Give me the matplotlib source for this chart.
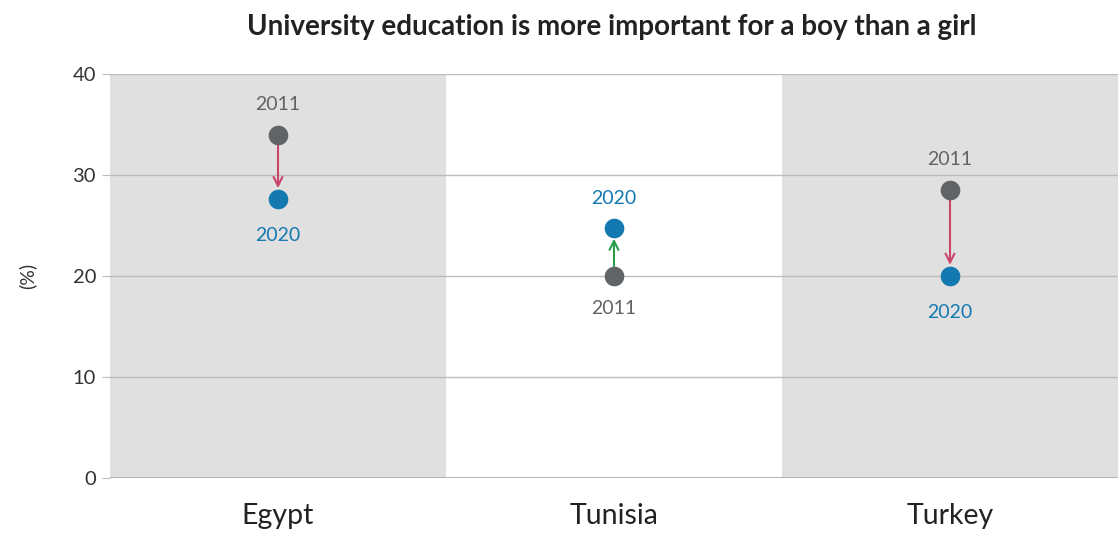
import matplotlib.pyplot as plt
import numpy as np

plt.rcParams['font.family'] = ['Lato', 'DejaVu Sans']

paises = ["Egypt", "Tunisia", "Turkey"]
valores_2011 = [34.0, 20.0, 28.5]
valores_2020 = [27.6, 24.8, 20.0]

gris = "#616467"
azul = "#1479b0"
rojo = "#c9456a"
verde = "#2a9d4c"

fig = plt.figure(figsize=(11.18, 5.35), dpi=100)
ax = fig.add_axes([110 / 1118, 57 / 535, 1008 / 1118, 404 / 535])

x = np.arange(len(paises))

# bandas grises alternas
for i in x:
    if i % 2 == 0:
        ax.axvspan(i - 0.5, i + 0.5, color="#e0e0e0", lw=0, zorder=0)

for yv in [10, 20, 30, 40]:
    ax.axhline(yv, color="#bdbdbd", lw=1, zorder=1)
ax.axhline(0, color="#a8a8a8", lw=1.2, zorder=1)

for i, (a, b) in enumerate(zip(valores_2011, valores_2020)):
    color_flecha = rojo if b < a else verde
    ax.annotate("", xy=(i, b), xytext=(i, a),
                arrowprops=dict(arrowstyle="->", color=color_flecha, lw=1.5,
                                shrinkA=7, shrinkB=8, mutation_scale=16),
                zorder=2)
    ax.scatter([i], [a], s=200, color=gris, zorder=3, linewidths=0)
    ax.scatter([i], [b], s=200, color=azul, zorder=3, linewidths=0)
    # etiqueta arriba para el valor mayor, abajo para el menor
    if a > b:
        ax.text(i, a + 3.0, "2011", ha="center", va="center", fontsize=14, color=gris)
        ax.text(i, b - 3.6, "2020", ha="center", va="center", fontsize=14, color=azul)
    else:
        ax.text(i, b + 2.9, "2020", ha="center", va="center", fontsize=14, color=azul)
        ax.text(i, a - 3.2, "2011", ha="center", va="center", fontsize=14, color=gris)

ax.set_xlim(-0.5, 2.5)
ax.set_ylim(0, 40)
ax.set_yticks([0, 10, 20, 30, 40])
ax.set_xticks(x)
ax.set_xticklabels(paises, fontsize=20.5, color="#222222")
ax.tick_params(axis="y", labelsize=14.5, colors="#333333", length=6, color="#bdbdbd", pad=4)
ax.tick_params(axis="x", length=0, pad=18)
for s in ax.spines.values():
    s.set_visible(False)

ax.set_ylabel("(%)", fontsize=14, color="#333333", labelpad=26)
fig.text(612 / 1118, 1 - 27 / 535, "University education is more important for a boy than a girl",
         ha="center", va="center", fontsize=20, fontweight="bold", color="#222222")

fig.savefig("out.png", dpi=100)
